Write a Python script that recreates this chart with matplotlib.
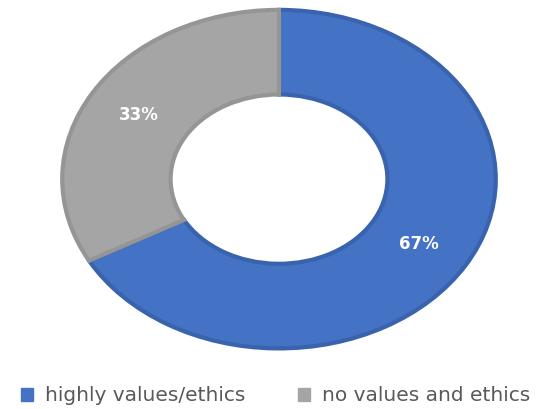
import matplotlib.pyplot as plt
from matplotlib.patches import Patch

labels = ["highly values/ethics", "no values and ethics"]
values = [67, 33]
colors = ["#4472C4", "#A5A5A5"]
edges = ["#3A63AD", "#959595"]

fig = plt.figure(figsize=(5.46, 4.09), dpi=100)
ax = fig.add_axes([0.110, 0.144, 0.802, 0.836])

wedges, texts, autotexts = ax.pie(values, colors=colors, startangle=90, counterclock=False,
                                  radius=1, autopct="%d%%", pctdistance=0.75,
                                  wedgeprops=dict(width=0.5, linewidth=3),
                                  textprops=dict(color="white", fontsize=12, fontweight="bold"))
for w, ec in zip(wedges, edges):
    w.set_edgecolor(ec)
ax.set_aspect("auto")
ax.set_xlim(-1.01, 1.01)
ax.set_ylim(-1.01, 1.01)
ax.axis("off")

handles = [Patch(facecolor=c, edgecolor=c) for c in colors]
fig.legend(handles, labels, loc="center", bbox_to_anchor=(0.505, 0.032), ncol=2, frameon=False,
           fontsize=14.5, labelcolor="#595959", handlelength=0.6, handleheight=0.6,
           handletextpad=0.6, columnspacing=2.6)

fig.savefig("out.png", dpi=100)
